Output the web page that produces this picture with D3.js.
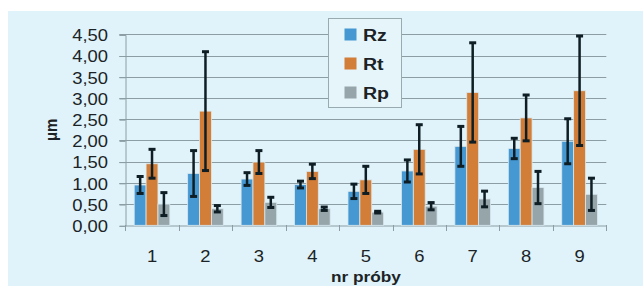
<!DOCTYPE html>
<html>
<head>
<meta charset="utf-8">
<script src="https://cdn.jsdelivr.net/npm/d3@7/dist/d3.min.js"></script>
<style>
	body { margin: 0; background: #ffffff; }
	svg { display: block; }
	text { font-family: "Liberation Sans", Arial, sans-serif; fill: #1b2326; }
</style>
</head>
<body>
<div id="chart"></div>
<script>
// sample numbers
var samples = ["1", "2", "3", "4", "5", "6", "7", "8", "9"];
var seriesNames = ["Rz", "Rt", "Rp"];
var seriesColors = ["#4698d2", "#d27d38", "#95a5aa"];

var rzValues = [0.95, 1.22, 1.09, 0.96, 0.80, 1.28, 1.86, 1.81, 1.98];
var rzErrors = [0.20, 0.54, 0.15, 0.08, 0.17, 0.26, 0.47, 0.24, 0.53];
var rtValues = [1.45, 2.69, 1.49, 1.27, 1.07, 1.79, 3.13, 2.53, 3.17];
var rtErrors = [0.34, 1.40, 0.27, 0.17, 0.32, 0.58, 1.17, 0.54, 1.29];
var rpValues = [0.50, 0.39, 0.54, 0.39, 0.31, 0.45, 0.62, 0.89, 0.73];
var rpErrors = [0.27, 0.075, 0.12, 0.04, 0.02, 0.085, 0.185, 0.38, 0.38];

var yTicks = [0, 0.5, 1, 1.5, 2, 2.5, 3, 3.5, 4, 4.5];

var width = 643, height = 286;
var margin = {left: 125.3, right: 36.7, top: 34.3, bottom: 60.7};
// the original picture is a bit wider than tall, so text is stretched too
var stretch = "scale(1.15,1)";

function buildData()
{
	var values = [rzValues, rtValues, rpValues];
	var errors = [rzErrors, rtErrors, rpErrors];
	var data = [];
	samples.forEach(function (s, i) {
		seriesNames.forEach(function (name, k) {
			data.push({sample: s, series: name, value: values[k][i], err: errors[k][i], color: seriesColors[k]});
		});
	});
	return data;
}

var data = buildData();

var svg = d3.select("#chart").append("svg")
	.attr("width", width)
	.attr("height", height);

// light blue panel
svg.append("rect")
	.attr("x", 8).attr("y", 11)
	.attr("width", width - 8).attr("height", height - 11)
	.attr("fill", "#e0f3fa");

var x = d3.scaleBand()
	.domain(samples)
	.range([margin.left, width - margin.right]);

var inner = d3.scaleBand()
	.domain(seriesNames)
	.range([0, x.bandwidth()])
	.paddingInner(0)
	.paddingOuter(0.75);

var y = d3.scaleLinear()
	.domain([0, 4.5])
	.range([height - margin.bottom, margin.top]);

// grid lines
svg.append("g")
	.selectAll("line")
	.data(yTicks.slice(1))
	.join("line")
	.attr("x1", margin.left - 6)
	.attr("x2", width - margin.right)
	.attr("y1", function (d) { return Math.round(y(d)) + 0.5; })
	.attr("y2", function (d) { return Math.round(y(d)) + 0.5; })
	.attr("stroke", "#8c9ea4")
	.attr("stroke-width", 1);

// y axis
var yAxis = d3.axisLeft(y)
	.tickValues(yTicks)
	.tickSize(6)
	.tickFormat(function (d) { return d3.format(".2f")(d).replace(".", ","); });

var gy = svg.append("g")
	.attr("transform", "translate(" + (Math.round(margin.left) + 0.5) + ",0.5)")
	.call(yAxis);
gy.select(".domain").attr("stroke", "#8c9ea4");
gy.selectAll(".tick line").attr("stroke", "#8c9ea4");
gy.selectAll(".tick text")
	.attr("x", -15.2)
	.attr("transform", stretch)
	.attr("font-size", 16)
	.attr("fill", "#1b2326")
	.attr("dy", "0.36em");

// x axis
var xAxis = d3.axisBottom(x).tickSize(0).tickPadding(25);
var gx = svg.append("g")
	.attr("transform", "translate(0," + (Math.round(y(0)) + 0.5) + ")")
	.call(xAxis);
gx.select(".domain").attr("stroke", "#8c9ea4");
gx.selectAll(".tick text")
	.attr("transform", stretch)
	.attr("font-size", 16)
	.attr("fill", "#1b2326");

// category separators on the x axis
svg.append("g")
	.selectAll("line")
	.data(samples.concat(["end"]))
	.join("line")
	.attr("x1", function (d, i) { return Math.round(margin.left + i * x.step()) + 0.5; })
	.attr("x2", function (d, i) { return Math.round(margin.left + i * x.step()) + 0.5; })
	.attr("y1", Math.round(y(0)))
	.attr("y2", Math.round(y(0)) + 6)
	.attr("stroke", "#8c9ea4");

// bars
svg.append("g")
	.selectAll("rect")
	.data(data)
	.join("rect")
	.attr("x", function (d) { return x(d.sample) + inner(d.series); })
	.attr("y", function (d) { return y(d.value); })
	.attr("width", inner.bandwidth())
	.attr("height", function (d) { return y(0) - y(d.value); })
	.attr("fill", function (d) { return d.color; })
	.attr("stroke", "#d8e8ee")
	.attr("stroke-width", 0.8);

// error bars
var errG = svg.append("g")
	.selectAll("g")
	.data(data)
	.join("g")
	.attr("stroke", "#0e1e24")
	.attr("stroke-width", 2.5);

function cx(d) { return x(d.sample) + inner(d.series) + inner.bandwidth() / 2; }

errG.append("line")
	.attr("x1", cx).attr("x2", cx)
	.attr("y1", function (d) { return y(d.value + d.err); })
	.attr("y2", function (d) { return y(d.value - d.err); });

errG.append("line")
	.attr("x1", function (d) { return cx(d) - 3.5; })
	.attr("x2", function (d) { return cx(d) + 3.5; })
	.attr("y1", function (d) { return y(d.value + d.err); })
	.attr("y2", function (d) { return y(d.value + d.err); })
	.attr("stroke-width", 3);

errG.append("line")
	.attr("x1", function (d) { return cx(d) - 3.5; })
	.attr("x2", function (d) { return cx(d) + 3.5; })
	.attr("y1", function (d) { return y(d.value - d.err); })
	.attr("y2", function (d) { return y(d.value - d.err); })
	.attr("stroke-width", 3);

// axis titles
svg.append("text")
	.attr("transform", "translate(57," + ((margin.top + y(0)) / 2) + ") rotate(-90) scale(1,1.15)")
	.attr("text-anchor", "middle")
	.attr("font-size", 15)
	.attr("font-weight", "bold")
	.text("μm");

svg.append("text")
	.attr("transform", "translate(366,282) " + stretch)
	.attr("text-anchor", "middle")
	.attr("font-size", 15)
	.attr("font-weight", "bold")
	.text("nr próby");

// legend
var legend = svg.append("g").attr("transform", "translate(328.5,18.5)");
legend.append("rect")
	.attr("width", 73)
	.attr("height", 89)
	.attr("fill", "#e6f5fa")
	.attr("stroke", "#9aabb0");

var items = legend.selectAll("g.item")
	.data(seriesNames)
	.join("g")
	.attr("class", "item")
	.attr("transform", function (d, i) { return "translate(16," + (10 + i * 29) + ")"; });

items.append("rect")
	.attr("width", 12)
	.attr("height", 12)
	.attr("fill", function (d, i) { return seriesColors[i]; });

items.append("text")
	.attr("x", 16)
	.attr("y", 12)
	.attr("transform", stretch)
	.attr("font-size", 17)
	.attr("font-weight", "bold")
	.text(function (d) { return d; });
</script>
</body>
</html>
